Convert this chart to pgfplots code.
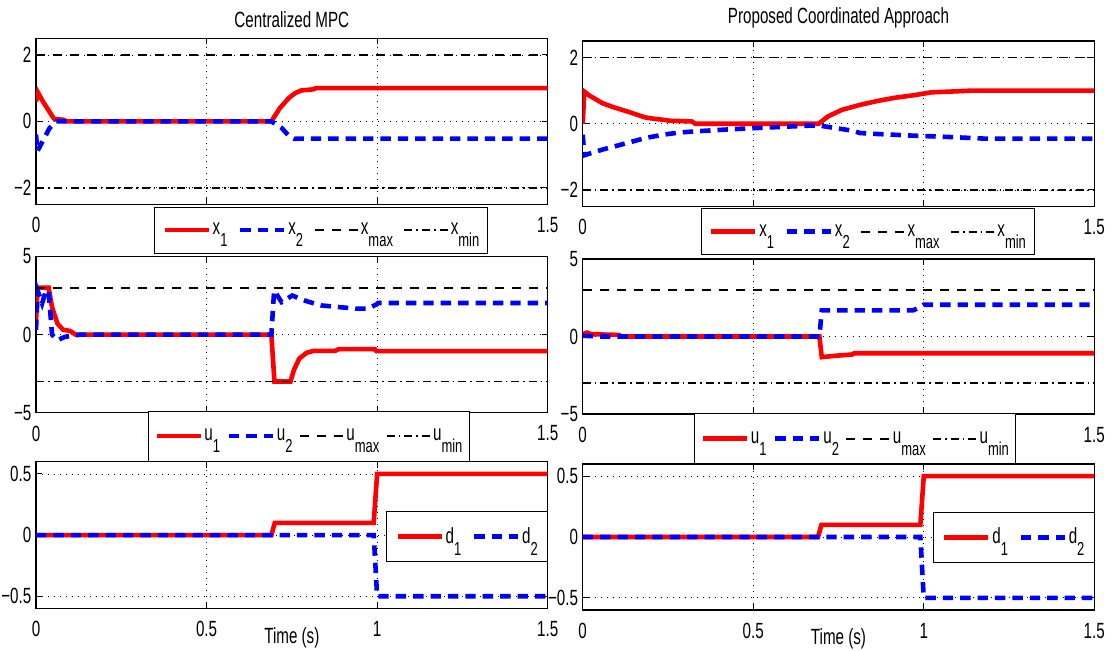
\documentclass[border=0pt]{standalone}
\usepackage{fontspec}
\setmainfont{Liberation Sans}[FakeStretch=0.69]
\usepackage{pgfplots}
\pgfplotsset{compat=1.18}
\newcommand{\sub}[1]{\raisebox{-6pt}{\fontsize{9.4}{10}\selectfont #1}}
\pgfplotsset{
  base/.style={
    scale only axis, anchor=south west,
    xmin=0, xmax=1.5,
    xtick={0,0.5,1,1.5}, xticklabels={0,0.5,1,1.5},
    grid=major,
    major grid style={black, line width=0.4pt, dash pattern=on 0.5pt off 2.5pt},
    axis line style={line width=0.6pt},
    tick style={black, line width=0.5pt},
    major tick length=3pt,
    tick align=inside,
    every axis title shift=0pt,
    font=\fontsize{11}{12}\selectfont,
    tick label style={font=\fontsize{11}{12}\selectfont},
    xticklabel style={yshift=-3pt},
    yticklabel style={xshift=1.2pt},
    title style={anchor=base, font=\fontsize{11}{12}\selectfont},
    legend image code/.code={\draw[##1] (0pt,0pt) -- (22pt,0pt);},
    legend style={draw=black, line width=0.5pt, fill=white, anchor=north west,
      font=\fontsize{11}{12}\selectfont, inner xsep=4pt, inner ysep=7.5pt,
      nodes={inner sep=0.3pt},
      /tikz/every even column/.append style={column sep=5pt},
      /tikz/every odd column/.append style={column sep=0.5pt}},
    legend columns=4,
  },
  r1/.style={red, line width=2.3pt},
  b2/.style={blue, line width=2.3pt, dash pattern=on 5.2pt off 3.5pt},
  kmax/.style={black, line width=0.8pt, dash pattern=on 4.5pt off 4pt},
  kmin/.style={black, line width=0.8pt, dash pattern=on 4pt off 2pt on 0.8pt off 2pt},
}
\begin{document}
\begin{tikzpicture}
\useasboundingbox (0,0) rectangle (558pt,325pt);
% ---------------- Row 1 left
\begin{axis}[base, at={(18pt,222.85pt)}, width=255.85pt, height=83pt,
  ymin=-2.5, ymax=2.5, ytick={-2,0,2}, yticklabels={−2,0,2},
  title={Centralized MPC}, title style={yshift=5.3pt},
  legend style={at={(axis description cs:0.2306,-0.0145)}}]
\addplot[r1] coordinates {(0,0.6)(0.006,0.86)(0.02,0.6)(0.05,0.12)(0.055,0.06)(0.08,0.05)(0.09,0)(0.69,0)(0.715,0.4)(0.742,0.71)(0.76,0.85)(0.778,0.93)(0.81,0.96)(0.815,0.97)(0.82,1.0)(1.5,1.0)};
\addplot[b2] coordinates {(0,-0.4)(0.004,-0.9)(0.04,-0.2)(0.06,0)(0.69,0)(0.72,-0.2)(0.745,-0.48)(0.757,-0.53)(0.77,-0.52)(1.5,-0.52)};
\addplot[kmax] coordinates {(0,2)(1.5,2)};
\addplot[kmin] coordinates {(0,-2)(1.5,-2)};
\legend{x\sub{1}, x\sub{2}, x\sub{max}, x\sub{min}}
\end{axis}
% ---------------- Row 1 right
\begin{axis}[base, at={(291.35pt,221.75pt)}, width=255.8pt, height=82.75pt,
  ymin=-2.5, ymax=2.5, ytick={-2,0,2}, yticklabels={−2,0,2},
  title={Proposed Coordinated Approach}, title style={yshift=8.7pt},
  legend style={at={(axis description cs:0.2305,-0.011)}}]
\addplot[r1] coordinates {(0,0)(0.005,0.97)(0.02,0.85)(0.058,0.62)(0.09,0.5)(0.131,0.37)(0.16,0.27)(0.184,0.19)(0.21,0.15)(0.236,0.12)(0.257,0.09)(0.32,0.07)(0.33,0)(0.692,0)(0.719,0.22)(0.76,0.42)(0.813,0.57)(0.865,0.69)(0.918,0.79)(0.97,0.86)(1.023,0.95)(1.075,0.97)(1.138,1.0)(1.5,1.0)};
\addplot[b2] coordinates {(0,-0.33)(0.005,-0.95)(0.058,-0.78)(0.131,-0.58)(0.184,-0.43)(0.236,-0.33)(0.288,-0.26)(0.362,-0.21)(0.446,-0.16)(0.551,-0.11)(0.656,-0.06)(0.692,-0.05)(0.74,-0.13)(0.792,-0.21)(0.813,-0.28)(0.865,-0.31)(0.97,-0.36)(1.023,-0.38)(1.075,-0.4)(1.18,-0.45)(1.5,-0.45)};
\addplot[kmax] coordinates {(0,2)(1.5,2)};
\addplot[kmin] coordinates {(0,-2)(1.5,-2)};
\legend{x\sub{1}, x\sub{2}, x\sub{max}, x\sub{min}}
\end{axis}
% ---------------- Row 2 left
\begin{axis}[base, at={(18pt,118.65pt)}, width=255.85pt, height=78.1pt,
  ymin=-5, ymax=5, ytick={-5,0,5}, yticklabels={−5,0,5},
  legend style={at={(axis description cs:0.2183,0.0128)}, inner ysep=8.5pt, inner xsep=3pt,
    /tikz/every even column/.append style={column sep=3pt}}]
\addplot[r1] coordinates {(0,0.9)(0.005,3)(0.037,3)(0.047,1.76)(0.063,0.7)(0.079,0.32)(0.1,0.23)(0.116,0)(0.69,0)(0.699,-3)(0.746,-3)(0.756,-2.27)(0.772,-1.53)(0.793,-1.17)(0.814,-1.04)(0.877,-1.04)(0.888,-0.93)(0.993,-0.93)(0.998,-1.06)(1.5,-1.06)};
\addplot[b2] coordinates {(0,0.3)(0.005,2.8)(0.018,2.0)(0.029,2.8)(0.037,2.8)(0.047,0)(0.063,-0.36)(0.084,-0.15)(0.131,0)(0.69,0)(0.698,2.82)(0.72,2.08)(0.751,2.5)(0.793,2.14)(0.835,1.87)(0.888,1.76)(0.94,1.66)(0.972,1.66)(0.998,1.93)(1.003,2.02)(1.5,2.02)};
\addplot[kmax] coordinates {(0,3)(1.5,3)};
\addplot[kmin] coordinates {(0,-3)(1.5,-3)};
\legend{u\sub{1}, u\sub{2}, u\sub{max}, u\sub{min}}
\end{axis}
% ---------------- Row 2 right
\begin{axis}[base, at={(291.35pt,118pt)}, width=255.8pt, height=77.5pt,
  ymin=-5, ymax=5, ytick={-5,0,5}, yticklabels={−5,0,5},
  legend style={at={(axis description cs:0.218,0.0045)}, inner ysep=8.5pt, inner xsep=3pt,
    /tikz/every even column/.append style={column sep=3pt}}]
\addplot[r1] coordinates {(0,0.15)(0.013,0.25)(0.025,0.15)(0.107,0.1)(0.112,0)(0.694,0)(0.701,-1.33)(0.748,-1.23)(0.79,-1.16)(0.796,-1.08)(1.5,-1.08)};
\addplot[b2] coordinates {(0,0.05)(0.05,0)(0.694,0)(0.701,1.69)(0.969,1.69)(0.99,1.9)(1.0,2.05)(1.5,2.05)};
\addplot[kmax] coordinates {(0,3)(1.5,3)};
\addplot[kmin] coordinates {(0,-3)(1.5,-3)};
\legend{u\sub{1}, u\sub{2}, u\sub{max}, u\sub{min}}
\end{axis}
% ---------------- Row 3 left
\begin{axis}[base, at={(18pt,20.75pt)}, width=255.85pt, height=73.4pt,
  ymin=-0.6, ymax=0.6, ytick={-0.5,0,0.5}, yticklabels={−0.5,0,0.5},
  xlabel={Time (s)}, xlabel style={at={(axis description cs:0.5,0)}, anchor=north, yshift=-5.8pt},
  legend columns=2,
  legend style={at={(axis description cs:0.684,0.664)}, inner xsep=4.5pt}]
\addplot[r1] coordinates {(0,0)(0.69,0)(0.70,0.1)(0.99,0.1)(1.0,0.5)(1.5,0.5)};
\addplot[b2] coordinates {(0,0)(0.99,0)(1.0,-0.5)(1.5,-0.5)};
\legend{d\sub{1}, d\sub{2}}
\end{axis}
% ---------------- Row 3 right
\begin{axis}[base, at={(291.35pt,20pt)}, width=255.8pt, height=73pt,
  ymin=-0.6, ymax=0.6, ytick={-0.5,0,0.5}, yticklabels={−0.5,0,0.5},
  xlabel={Time (s)}, xlabel style={at={(axis description cs:0.5,0)}, anchor=north, yshift=-5.8pt},
  legend columns=2,
  legend style={at={(axis description cs:0.684,0.673)}, inner xsep=4.5pt}]
\addplot[r1] coordinates {(0,0)(0.69,0)(0.70,0.1)(0.99,0.1)(1.0,0.5)(1.5,0.5)};
\addplot[b2] coordinates {(0,0)(0.99,0)(1.0,-0.5)(1.5,-0.5)};
\legend{d\sub{1}, d\sub{2}}
\end{axis}
\end{tikzpicture}
\end{document}
